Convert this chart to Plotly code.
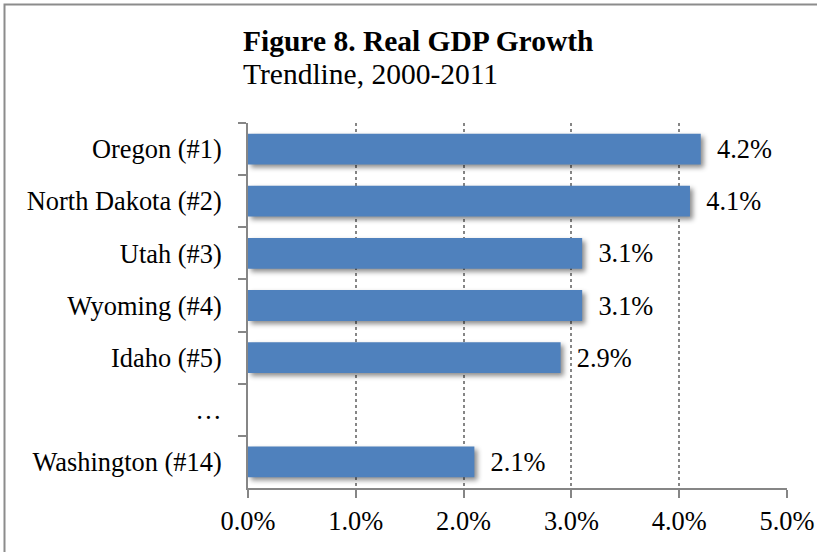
import plotly.graph_objects as go

# Real GDP growth, trendline 2000-2011 (percent per year)
states = ["Oregon (#1)", "North Dakota (#2)", "Utah (#3)", "Wyoming (#4)",
          "Idaho (#5)", "…", "Washington (#14)"]
growth = [4.2, 4.1, 3.1, 3.1, 2.9, None, 2.1]
x_ticks = [0, 1, 2, 3, 4, 5]
x_tick_labels = [f"{v:.1f}%" for v in x_ticks]

title_text = "Figure 8. Real GDP Growth"
subtitle_text = "Trendline, 2000-2011"

FONT = "Liberation Serif, Times New Roman, serif"
BAR = "#4F81BD"
GREY = "#868686"
FS = 26.4

W, H = 817, 552
L, R, T, B = 248, 30, 123, 64
pw, ph = W - L - R, H - T - B


def px_x(p):
    return (p - L) / pw


def px_y(p):
    return (H - B - p) / ph


fig = go.Figure()
fig.add_trace(go.Bar(
    y=states, x=growth, orientation="h",
    marker=dict(color=BAR, line=dict(width=0)),
    width=0.59,
    texttemplate="\u00a0\u00a0%{x:.1f}%",
    textposition="outside",
    textfont=dict(family=FONT, size=FS, color="#000000"),
    cliponaxis=False,
    hoverinfo="skip",
))

fig.update_layout(
    width=W, height=H,
    margin=dict(l=L, r=R, t=T, b=B, pad=0, autoexpand=False),
    paper_bgcolor="white", plot_bgcolor="white",
    showlegend=False,
    font=dict(family=FONT, size=FS, color="#000000"),
    xaxis=dict(
        range=[0, 5], tickmode="array", tickvals=x_ticks, ticktext=x_tick_labels,
        showgrid=True, gridcolor=GREY, griddash="dot", gridwidth=1.5,
        showline=True, linecolor=GREY, linewidth=2,
        ticks="outside", ticklen=8, tickcolor=GREY, tickwidth=2,
        zeroline=False, fixedrange=True, automargin=False,
        tickfont=dict(family=FONT, size=FS),
    ),
    yaxis=dict(
        type="category", categoryorder="array", categoryarray=states,
        autorange="reversed",
        showline=True, linecolor=GREY, linewidth=2,
        ticks="outside", ticklen=8, tickcolor=GREY, tickwidth=2,
        tickson="boundaries", showgrid=False, fixedrange=True, automargin=False,
        ticklabelstandoff=19,
        tickfont=dict(family=FONT, size=FS),
    ),
    annotations=[
        dict(text="<b>" + title_text + "</b>", xref="paper", yref="paper",
             x=px_x(240.5), y=px_y(41), xanchor="left", yanchor="middle",
             showarrow=False, font=dict(family=FONT, size=29.5, color="#000000")),
        dict(text=subtitle_text, xref="paper", yref="paper",
             x=px_x(240.5), y=px_y(74), xanchor="left", yanchor="middle",
             showarrow=False, font=dict(family=FONT, size=29.5, color="#000000")),
    ],
    shapes=[
        dict(type="rect", xref="paper", yref="paper",
             x0=px_x(4.5), x1=px_x(830), y0=px_y(4.5), y1=px_y(570),
             line=dict(color="#8C8C8C", width=2), fillcolor="rgba(0,0,0,0)",
             layer="below"),
    ],
)

# soft drop shadow under the bars
shadow_js = """
document.querySelectorAll('.barlayer .point path').forEach(function(p){
  p.style.filter = 'drop-shadow(3px 3px 2.5px rgba(0,0,0,0.45))';
});
"""

fig.write_html("out.html", post_script=shadow_js, config={"displayModeBar": False})
